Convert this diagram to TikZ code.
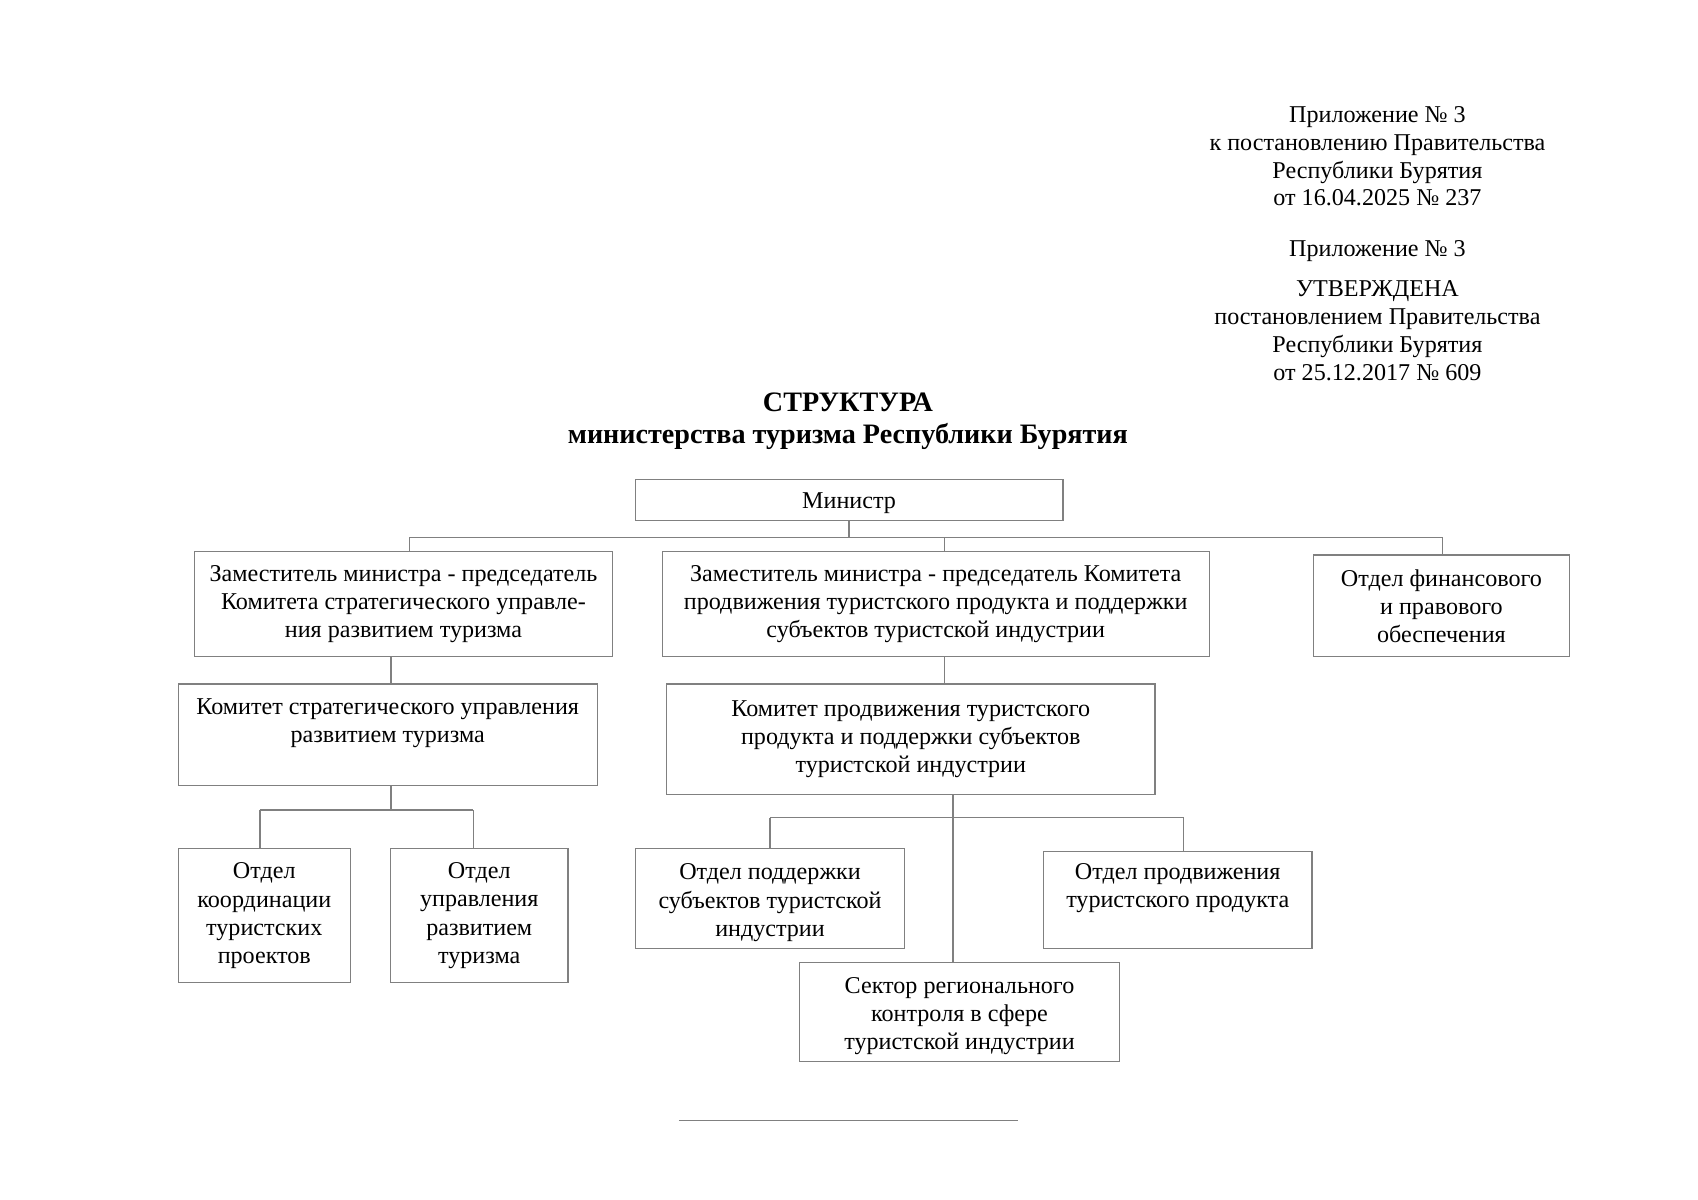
\documentclass[tikz,border=0pt]{standalone}
\usepackage{fontspec}
\setmainfont{Liberation Serif}
\definecolor{linegray}{gray}{0.5}
\def\U{0.18941mm}
\tikzset{
 box/.style={draw=linegray, line width=0.6pt, inner sep=0pt, align=center, anchor=north west, font=\fontsize{12}{14}\selectfont},
 conn/.style={draw=linegray, line width=0.6pt},
 note/.style={align=center, anchor=base, inner sep=0pt, font=\fontsize{12}{13.8}\selectfont},
 titletext/.style={align=center, anchor=base, inner sep=0pt, font=\bfseries\fontsize{14}{16}\selectfont}
}
\begin{document}
\begin{tikzpicture}[x=\U, y=-\U]
\useasboundingbox (0,0) rectangle (1568,1108);
% header notes (anchor base = last line)
\node[note] (noteA) at (1272,190) {Приложение № 3\\к постановлению Правительства\\Республики Бурятия\\от 16.04.2025 № 237};
\node[note] (noteB) at (1272,237) {Приложение № 3};
\node[note] (noteC) at (1272,351) {УТВЕРЖДЕНА\\постановлением Правительства\\Республики Бурятия\\от 25.12.2017 № 609};
\node[titletext] (title) at (783,410) {СТРУКТУРА\\министерства туризма Республики Бурятия};
% boxes
\node[box, minimum width=395*\U, minimum height=38*\U] (min) at (586,442) {\rule{0pt}{11.5pt}Министр};
\node[box, minimum width=386*\U, minimum height=97*\U] (dep1) at (179,509) {Заместитель министра - председатель\\Комитета стратегического управле-\\ния развитием туризма};
\node[box, minimum width=505*\U, minimum height=97*\U] (dep2) at (611,509) {Заместитель министра - председатель Комитета\\продвижения туристского продукта и поддержки\\субъектов туристской индустрии};
\node[box, minimum width=237*\U, minimum height=94*\U] (fin) at (1212,512) {Отдел финансового\\и правового\\обеспечения};
\node[box, minimum width=387*\U, minimum height=94*\U] (com1) at (164,631) {Комитет стратегического управления\\развитием туризма\\\mbox{}};
\node[box, minimum width=451*\U, minimum height=102*\U] (com2) at (615,631) {Комитет продвижения туристского\\продукта и поддержки субъектов\\туристской индустрии};
\node[box, minimum width=159*\U, minimum height=124*\U] (koord) at (164,783) {Отдел\\координации\\туристских\\проектов};
\node[box, minimum width=164*\U, minimum height=124*\U] (upr) at (360,783) {Отдел\\управления\\развитием\\туризма};
\node[box, minimum width=249*\U, minimum height=92*\U] (podd) at (586,783) {\rule{0pt}{12.3pt}Отдел поддержки\\субъектов туристской\\индустрии};
\node[box, minimum width=248*\U, minimum height=89*\U] (prod) at (963,786) {Отдел продвижения\\туристского продукта\\\mbox{}};
\node[box, minimum width=295*\U, minimum height=92*\U] (sect) at (738,888) {\rule{0pt}{12.3pt}Сектор регионального\\контроля в сфере\\туристской индустрии};
% top bus
\coordinate (b1L) at (378,496);
\coordinate (b1M) at (872,496);
\coordinate (b1R) at (1332,496);
\draw[conn] (min.south) -- (min.south |- b1L);
\draw[conn] (b1L) -- (b1R);
\draw[conn] (b1L) -- (b1L |- dep1.north);
\draw[conn] (b1M) -- (b1M |- dep2.north);
\draw[conn] (b1R) -- (b1R |- fin.north);
% left branch
\coordinate (b2L) at (240,748);
\coordinate (b2M) at (361,748);
\coordinate (b2R) at (437,748);
\draw[conn] (b2M |- dep1.south) -- (b2M |- com1.north);
\draw[conn] (b2M |- com1.south) -- (b2M);
\draw[conn] (b2L) -- (b2R);
\draw[conn] (b2L) -- (b2L |- koord.north);
\draw[conn] (b2R) -- (b2R |- upr.north);
% middle branch
\coordinate (v2) at (872,606);
\draw[conn] (v2 |- dep2.south) -- (v2 |- com2.north);
\coordinate (b3L) at (711,755);
\coordinate (b3M) at (880,755);
\coordinate (b3R) at (1093,755);
\draw[conn] (b3M |- com2.south) -- (b3M |- sect.north);
\draw[conn] (b3L) -- (b3R);
\draw[conn] (b3L) -- (b3L |- podd.north);
\draw[conn] (b3R) -- (b3R |- prod.north);
% bottom rule
\coordinate (hl1) at (627,1035);
\coordinate (hl2) at (940,1035);
\draw[conn] (hl1) -- (hl2);
\end{tikzpicture}
\end{document}
